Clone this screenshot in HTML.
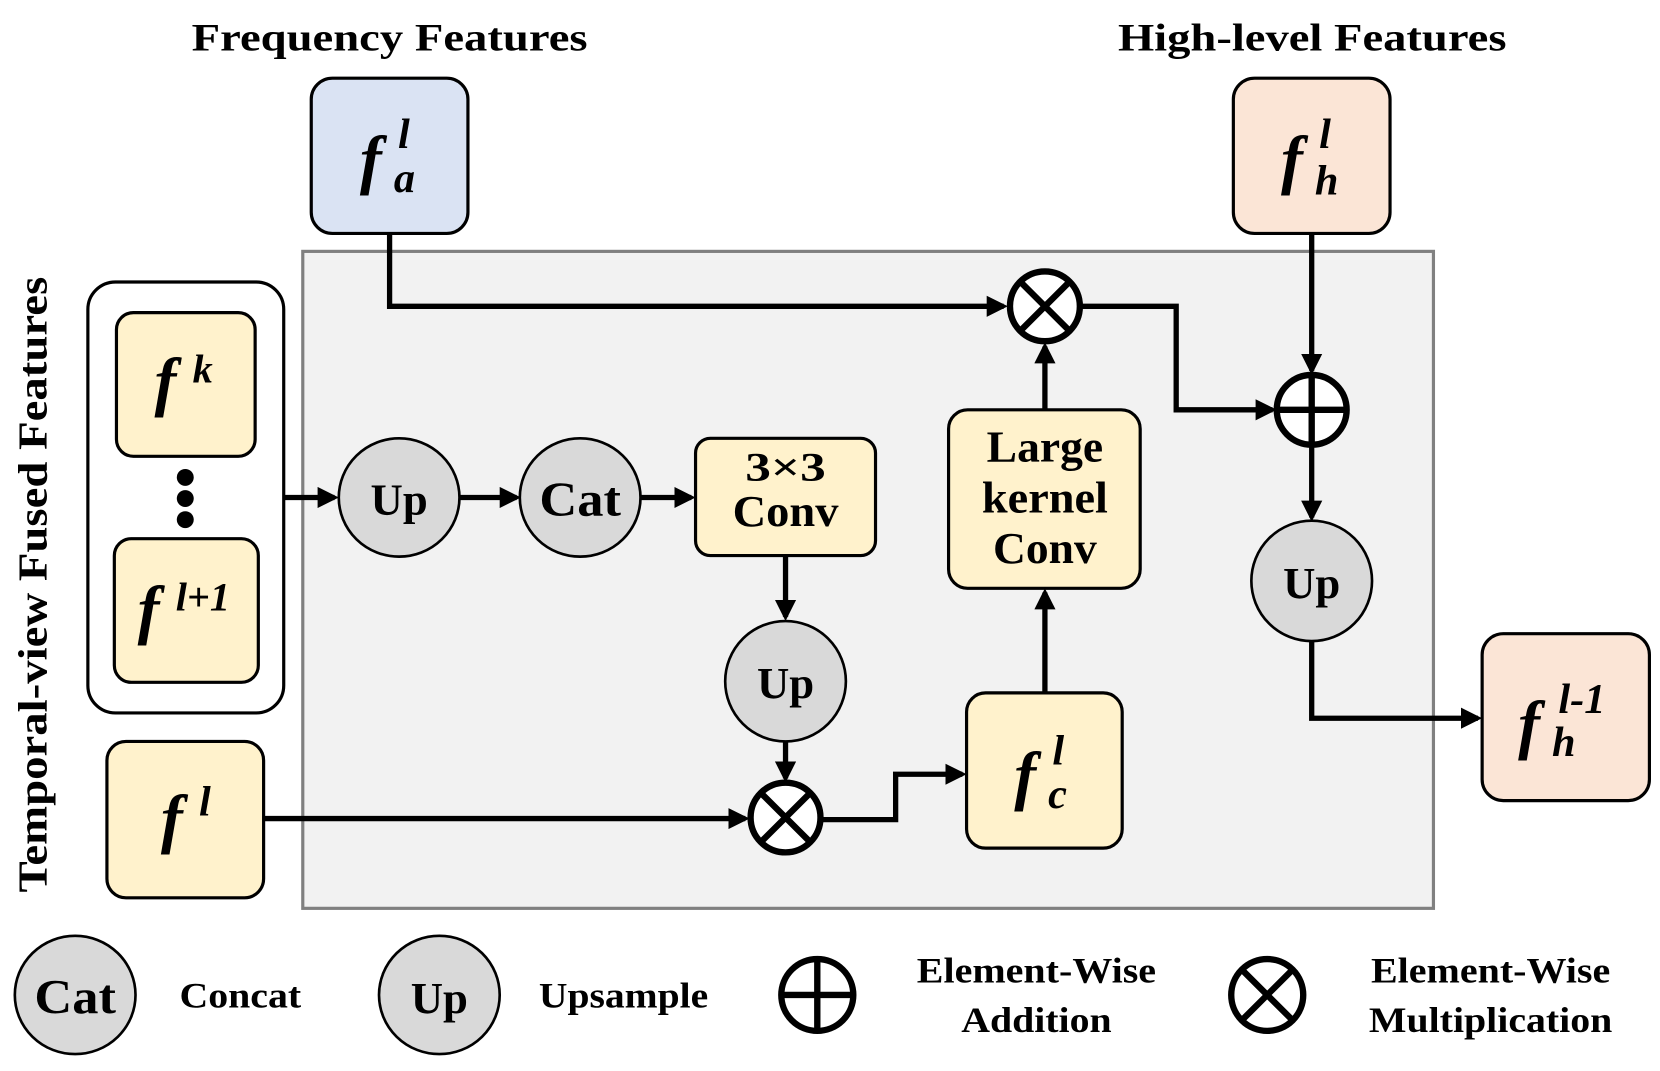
<!DOCTYPE html>
<html><head><meta charset="utf-8"><style>
html,body{margin:0;padding:0;background:#fff;}
svg{display:block;}
text{font-family:"Liberation Serif",serif;font-weight:bold;fill:#000;}
.m{font-style:italic;}
</style></head><body>
<svg width="1660" height="1071" viewBox="0 0 1568 1014" preserveAspectRatio="none" xmlns="http://www.w3.org/2000/svg">
<defs>
<marker id="a" markerWidth="4" markerHeight="4" refX="3.2" refY="2" orient="auto" markerUnits="strokeWidth">
<path d="M0,0 L4,2 L0,4 z" fill="#000"/></marker>
</defs>
<rect x="286" y="238" width="1068" height="622" fill="#f2f2f2" stroke="#808080" stroke-width="3"/>
<text x="181" y="48" font-size="37" textLength="374" lengthAdjust="spacingAndGlyphs">Frequency Features</text>
<text x="1056" y="48" font-size="37" textLength="367" lengthAdjust="spacingAndGlyphs">High-level Features</text>
<text transform="translate(44,845) rotate(-90)" font-size="39" textLength="583" lengthAdjust="spacingAndGlyphs">Temporal-view Fused Features</text>

<g stroke="#000" stroke-width="3">
<rect x="294" y="74" width="148" height="147" rx="20" fill="#dae3f3"/>
<rect x="1165" y="74" width="148" height="147" rx="20" fill="#fbe5d6"/>
<rect x="83" y="267" width="185" height="408" rx="26" fill="#fff"/>
<rect x="110" y="296" width="131" height="136" rx="16" fill="#fff2cc"/>
<rect x="108" y="510" width="136" height="136" rx="16" fill="#fff2cc"/>
<rect x="101" y="702" width="148" height="148" rx="18" fill="#fff2cc"/>
<rect x="657" y="415" width="170" height="111" rx="14" fill="#fff2cc"/>
<rect x="896" y="388" width="181" height="169" rx="18" fill="#fff2cc"/>
<rect x="913" y="656" width="147" height="147" rx="18" fill="#fff2cc"/>
<rect x="1400" y="600" width="158" height="158" rx="20" fill="#fbe5d6"/>
<ellipse cx="377" cy="471" rx="57" ry="56" fill="#d9d9d9" stroke-width="2.5"/>
<ellipse cx="548" cy="471" rx="57" ry="56" fill="#d9d9d9" stroke-width="2.5"/>
<ellipse cx="742" cy="645" rx="57" ry="57" fill="#d9d9d9" stroke-width="2.5"/>
<ellipse cx="1239" cy="550" rx="57" ry="57" fill="#d9d9d9" stroke-width="2.5"/>
<ellipse cx="71" cy="942" rx="57" ry="56" fill="#d9d9d9" stroke-width="2.5"/>
<ellipse cx="415" cy="942" rx="57" ry="56" fill="#d9d9d9" stroke-width="2.5"/>
</g>
<g fill="#000"><circle cx="175" cy="452" r="8"/><circle cx="175" cy="472" r="8"/><circle cx="175" cy="492" r="8"/></g>

<g fill="#fff" stroke="#000" stroke-width="6">
<circle cx="987" cy="290" r="33"/>
<path d="M964,267 L1010,313 M1010,267 L964,313"/>
<circle cx="742" cy="774" r="33"/>
<path d="M719,751 L765,797 M765,751 L719,797"/>
<circle cx="1239" cy="388" r="33"/>
<path d="M1239,355 V421 M1206,388 H1272"/>
<circle cx="772" cy="942" r="34"/>
<path d="M772,908 V976 M738,942 H806"/>
<circle cx="1197" cy="942" r="34"/>
<path d="M1173,918 L1221,966 M1221,918 L1173,966"/>
</g>

<g stroke="#000" stroke-width="5" fill="none">
<path d="M368,221 V290 H948" marker-end="url(#a)"/>
<path d="M1021,290 H1111 V388 H1202" marker-end="url(#a)"/>
<path d="M1239,221 V351" marker-end="url(#a)"/>
<path d="M1239,422 V490" marker-end="url(#a)"/>
<path d="M1239,607 V680 H1396" marker-end="url(#a)"/>
<path d="M268,471 H316" marker-end="url(#a)"/>
<path d="M434,471 H488" marker-end="url(#a)"/>
<path d="M605,471 H653" marker-end="url(#a)"/>
<path d="M742,527 V584" marker-end="url(#a)"/>
<path d="M742,702 V737" marker-end="url(#a)"/>
<path d="M249,775 H704" marker-end="url(#a)"/>
<path d="M776,776 H846 V733 H909" marker-end="url(#a)"/>
<path d="M987,656 V561" marker-end="url(#a)"/>
<path d="M987,388 V328" marker-end="url(#a)"/>
</g>

<g font-size="42" text-anchor="middle">
<text x="377" y="487" textLength="54" lengthAdjust="spacingAndGlyphs">Up</text>
<text x="548" y="488" font-size="46" textLength="77" lengthAdjust="spacingAndGlyphs">Cat</text>
<text x="742" y="661" textLength="54" lengthAdjust="spacingAndGlyphs">Up</text>
<text x="1239" y="566" textLength="54" lengthAdjust="spacingAndGlyphs">Up</text>
<text x="71" y="959" font-size="46" textLength="77" lengthAdjust="spacingAndGlyphs">Cat</text>
<text x="415" y="959" textLength="54" lengthAdjust="spacingAndGlyphs">Up</text>
<text x="742" y="455" font-size="38" textLength="76" lengthAdjust="spacingAndGlyphs">3×3</text>
<text x="742" y="498" textLength="100" lengthAdjust="spacingAndGlyphs">Conv</text>
<text x="987" y="437" textLength="110" lengthAdjust="spacingAndGlyphs">Large</text>
<text x="987" y="485" textLength="119" lengthAdjust="spacingAndGlyphs">kernel</text>
<text x="987" y="533" textLength="98" lengthAdjust="spacingAndGlyphs">Conv</text>
</g>
<g font-size="34" text-anchor="middle">
<text x="227" y="954" textLength="115" lengthAdjust="spacingAndGlyphs">Concat</text>
<text x="589" y="954" textLength="160" lengthAdjust="spacingAndGlyphs">Upsample</text>
<text x="979" y="930" textLength="226" lengthAdjust="spacingAndGlyphs">Element-Wise</text>
<text x="979" y="977" textLength="142" lengthAdjust="spacingAndGlyphs">Addition</text>
<text x="1408" y="930" textLength="226" lengthAdjust="spacingAndGlyphs">Element-Wise</text>
<text x="1408" y="977" textLength="230" lengthAdjust="spacingAndGlyphs">Multiplication</text>
</g>

<g>
<text class="m" x="340" y="172" font-size="62">f</text>
<text class="m" x="376" y="140" font-size="40">l</text>
<text class="m" x="372" y="182" font-size="40">a</text>
<text class="m" x="1210" y="172" font-size="62">f</text>
<text class="m" x="1246" y="140" font-size="40">l</text>
<text class="m" x="1242" y="184" font-size="40">h</text>
<text class="m" x="146" y="382" font-size="62">f</text>
<text class="m" x="182" y="362" font-size="38">k</text>
<text class="m" x="130" y="598" font-size="62">f</text>
<text class="m" x="166" y="578" font-size="38">l+1</text>
<text class="m" x="152" y="796" font-size="62">f</text>
<text class="m" x="188" y="772" font-size="40">l</text>
<text class="m" x="958" y="755" font-size="62">f</text>
<text class="m" x="994" y="724" font-size="40">l</text>
<text class="m" x="990" y="765" font-size="40">c</text>
<text class="m" x="1434" y="707" font-size="62">f</text>
<text class="m" x="1472" y="675" font-size="40">l-1</text>
<text class="m" x="1466" y="716" font-size="40">h</text>
</g>
</svg>
</body></html>
